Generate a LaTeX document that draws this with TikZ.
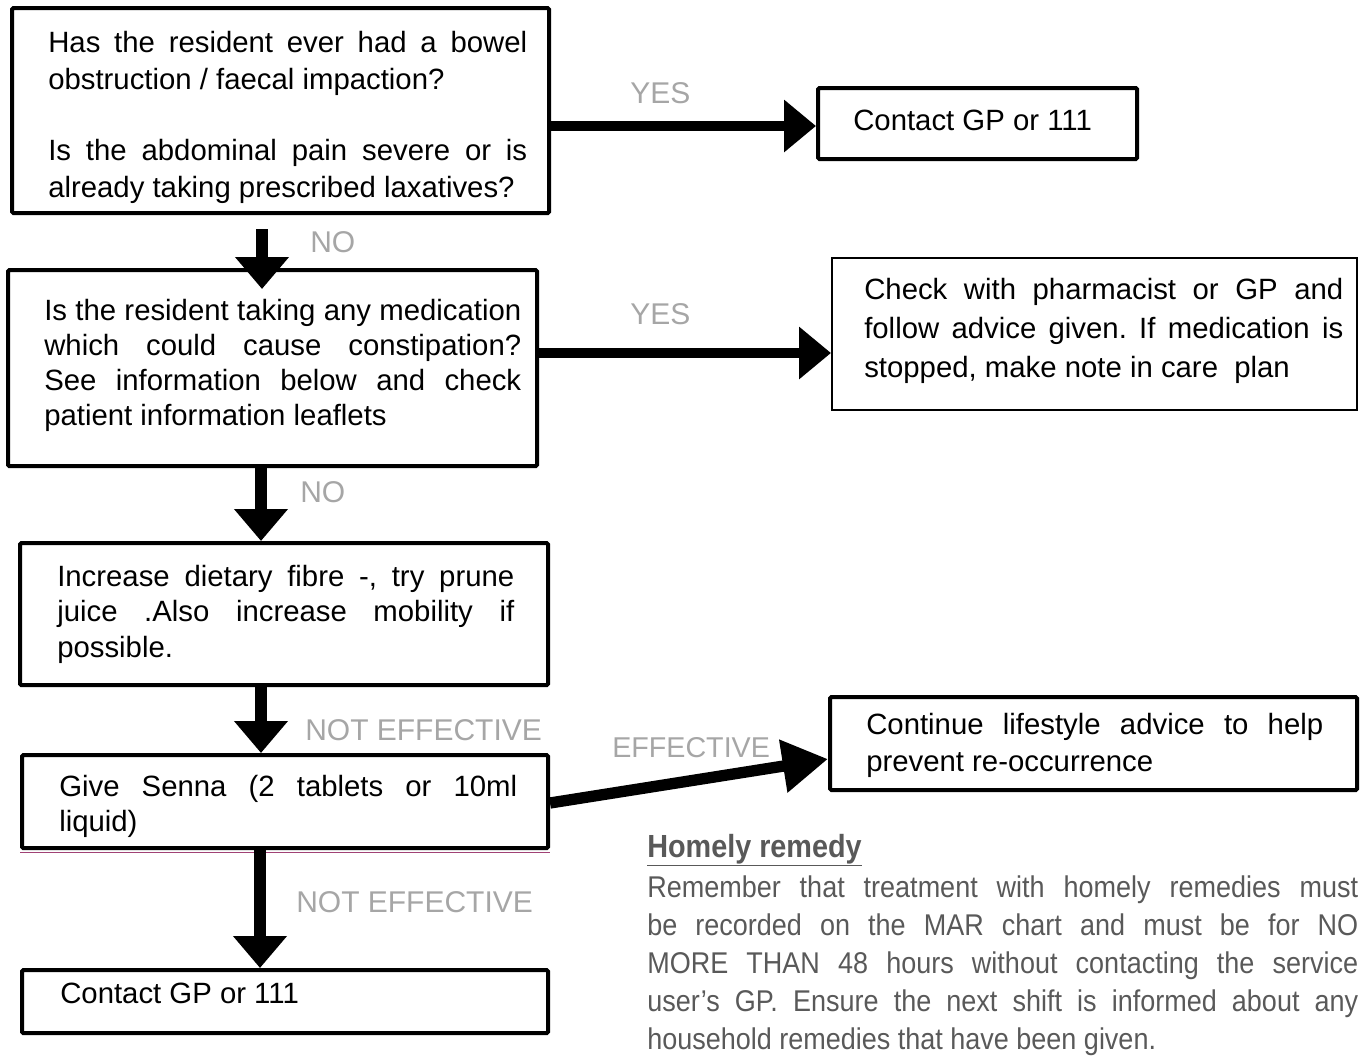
\documentclass[tikz,border=0pt]{standalone}
\usepackage{fontspec}
\setmainfont{Liberation Sans}
\newfontfamily\narrowfont[FakeStretch=0.9]{Liberation Sans}
\usetikzlibrary{arrows.meta,fit,calc}
\definecolor{lblgray}{HTML}{A6A6A6}
\definecolor{remgray}{HTML}{595959}
\newcommand{\jl}[2]{\makebox[#1][s]{#2}}
\newcommand{\bstrut}{\rule{0pt}{20pt}}
\frenchspacing
\tikzset{
  box/.style={draw, line width=3pt, rounded corners=1pt, inner sep=0pt},
  thinbox/.style={draw, line width=1.5pt, inner sep=0pt},
  txt/.style={anchor=north west, inner sep=0pt, yshift=20pt, align=left},
  lbl/.style={anchor=west, inner sep=0pt, text=lblgray, font=\fontsize{22.5pt}{26pt}\selectfont},
  harr/.style={line width=8pt, -{Triangle[length=24pt,width=38pt]}},
  earr/.style={line width=8.5pt, -{Triangle[length=34pt,width=38pt]}},
  varr/.style={line width=8.5pt, -{Triangle[length=24pt,width=39pt]}},
}
\begin{document}
\begin{tikzpicture}[x=0.75pt,y=-0.75pt]
\useasboundingbox (0,0) rectangle (1361,1057);

% boxes
\node[box, fit={(12,8) (549,213)}] (b1) {};
\node[box, fit={(818,88) (1137,159)}] (c1) {};
\node[box, fit={(8,270) (537,466)}] (b2) {};
\node[thinbox, fit={(832,258) (1357,410)}] (ck) {};
\node[box, fit={(20,543) (548,685)}] (b3) {};
\node[box, fit={(830,697) (1357,790)}] (b5) {};
\node[box, fit={(22,755) (548,848)}] (b4) {};
\node[box, fit={(22,970) (548,1033)}] (b6) {};
\draw[magenta!60!black, line width=0.4pt] ([yshift=-1.6pt]b4.south west) -- ([yshift=-1.6pt]b4.south east);

% texts
\node[txt, font={\fontsize{22pt}{27.75pt}\selectfont}] (t1) at (48,52)
 {\bstrut\jl{359.25pt}{Has the resident ever had a bowel}\\ obstruction / faecal impaction?\\[25.5pt]
  \jl{359.25pt}{Is the abdominal pain severe or is}\\ already taking prescribed laxatives?};
\node[txt, font={\fontsize{22pt}{27.75pt}\selectfont}] (tc1) at (853,130) {\bstrut Contact GP or 111};
\node[txt, font={\fontsize{22pt}{26.25pt}\selectfont}] (t2) at (44,320)
 {\bstrut\jl{357.75pt}{Is the resident taking any medication}\\
  \jl{357.75pt}{which could cause constipation?}\\
  \jl{357.75pt}{See information below and check}\\
  patient information leaflets};
\node[txt, font={\fontsize{22pt}{29.25pt}\selectfont}] (tck) at (864,299)
 {\bstrut\jl{359.25pt}{Check with pharmacist or GP and}\\
  \jl{359.25pt}{follow advice given. If medication is}\\
  stopped, make note in care\ \ plan};
\node[txt, font={\fontsize{22pt}{26.6pt}\selectfont}] (t3) at (57,586)
 {\bstrut\jl{342.75pt}{Increase dietary fibre -, try prune}\\
  \jl{342.75pt}{juice .Also increase mobility if}\\
  possible.};
\node[txt, font={\fontsize{22pt}{26.25pt}\selectfont}] (t4) at (59,796)
 {\bstrut\jl{343.5pt}{Give Senna (2 tablets or 10ml}\\ liquid)};
\node[txt, font={\fontsize{22pt}{27.75pt}\selectfont}] (t5) at (866,734)
 {\bstrut\jl{342.75pt}{Continue lifestyle advice to help}\\ prevent re-occurrence};
\node[txt, font={\fontsize{22pt}{27.75pt}\selectfont}] (t6) at (60,1003) {\bstrut Contact GP or 111};

% homely remedy
\node[anchor=base west, inner sep=0pt, text=remgray, font={\narrowfont\bfseries\fontsize{24pt}{28pt}\selectfont}] (hr) at (647,857) {\underline{Homely remedy}};
\node[txt, text=remgray, font={\narrowfont\fontsize{22.5pt}{28.5pt}\selectfont}] (hb) at (647,897)
 {\bstrut\jl{533.25pt}{Remember that treatment with homely remedies must}\\
  \jl{533.25pt}{be recorded on the MAR chart and must be for NO}\\
  \jl{533.25pt}{MORE THAN 48 hours without contacting the service}\\
  \jl{533.25pt}{user’s GP. Ensure the next shift is informed about any}\\
  household remedies that have been given.};

% labels
\node[lbl] (l1) at (630,93) {YES};
\node[lbl] (l2) at (630,314) {YES};
\node[lbl] (l3) at (310,242) {NO};
\node[lbl] (l4) at (300,492) {NO};
\node[lbl] (l5) at (305,730) {NOT EFFECTIVE};
\node[lbl, font=\fontsize{21.5pt}{26pt}\selectfont] (l7) at (612,748) {EFFECTIVE};
\node[lbl] (l6) at (296,902) {NOT EFFECTIVE};

% arrows
\draw[harr] (b1.east |- 0,126) -- (c1.west |- 0,126);
\draw[harr] (b2.east |- 0,353) -- (ck.west |- 0,353);
\draw[earr] (b4.east |- 0,803) -- (b5.west |- 0,759);
\draw[varr] ($(b1.south -| 262,0)+(0,14)$) -- ($(b2.north -| 262,0)+(0,21)$);
\draw[varr] (b2.south -| 261,0) -- (b3.north -| 261,0);
\draw[varr] (b3.south -| 261,0) -- (b4.north -| 261,0);
\draw[varr] (b4.south -| 260,0) -- (b6.north -| 260,0);
\end{tikzpicture}
\end{document}
